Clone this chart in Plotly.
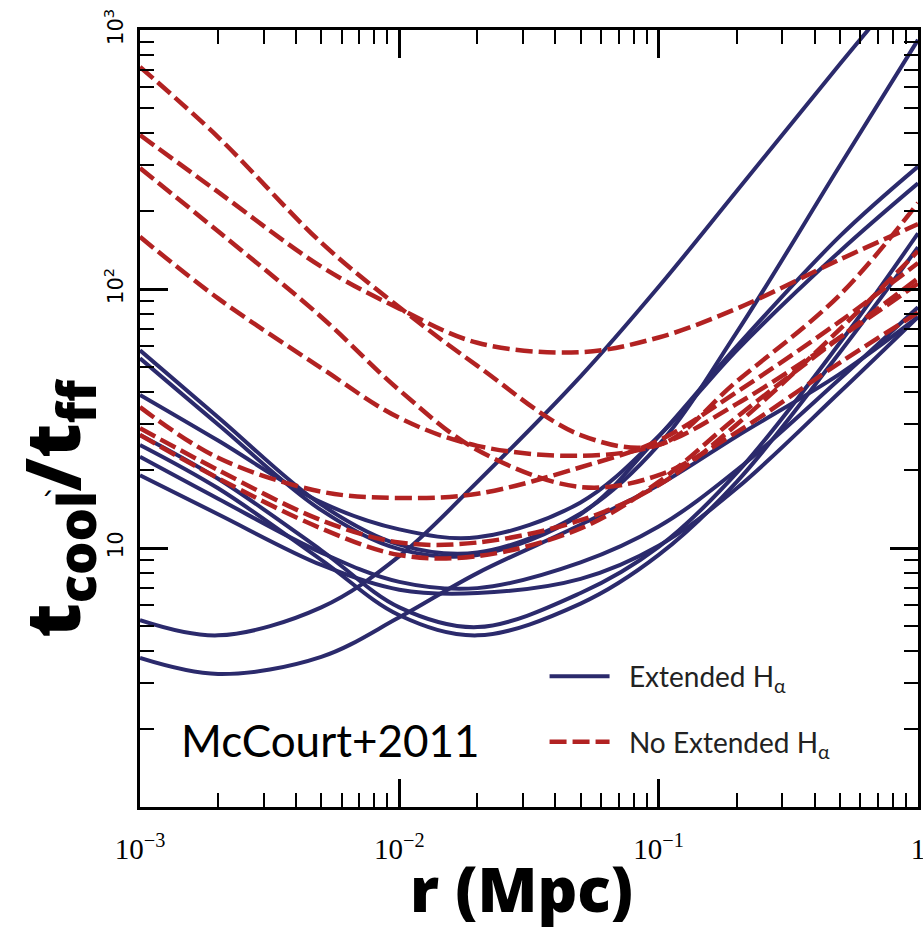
import plotly.graph_objects as go

# radius grid (Mpc)
r = [0.001, 0.002, 0.005, 0.01, 0.02, 0.05, 0.1, 0.2, 0.5, 1.0]

# No extended H-alpha (dashed red)
red_curves = [
    [720, 386, 151, 85, 50.5, 27.3, 25, 44, 95, 215],
    [393, 237, 122, 84, 62, 57, 65, 84, 130, 178],
    [293, 167, 78, 40.7, 23.9, 17.2, 19.1, 28, 52, 81],
    [159, 92, 49.5, 31.8, 24.8, 22.7, 25, 36, 65, 105],
    [35, 22.3, 16.5, 15.6, 16.2, 20.5, 26, 40, 75, 126],
    [29, 20, 12.8, 10.5, 10.5, 12.8, 17.5, 30, 70, 140],
    [27.3, 18.6, 11.9, 9.4, 9.3, 11.9, 18, 32, 65, 110],
]

# Extended H-alpha (solid blue)
blue_curves = [
    [5.27, 4.6, 5.9, 9.3, 18, 46, 102, 239, 739, 1700],
    [3.76, 3.26, 3.8, 5.4, 8.0, 12.3, 17.5, 27, 47, 78],
    [58, 32, 14.7, 10.3, 9.6, 13.6, 25, 68, 300, 916],
    [54, 30, 14, 9.9, 9.4, 13.5, 27, 60, 160, 297],
    [39, 26, 15, 11.8, 11, 15, 27, 58, 140, 256],
    [27.3, 18.5, 9.8, 5.9, 4.95, 6.7, 10.1, 19.5, 62, 164],
    [25, 17, 9.0, 5.5, 4.6, 6.1, 9.4, 18, 57, 145],
    [22.5, 15.5, 9.6, 7.4, 7.0, 8.8, 12.1, 20, 45, 85],
    [19.1, 13.5, 8.6, 6.9, 6.7, 7.6, 10.2, 17, 40, 78],
]

x_tickvals = [0.001, 0.01, 0.1, 1]
x_ticktext = ["10<sup>−3</sup>", "10<sup>−2</sup>", "10<sup>−1</sup>", "1"]
y_tickvals = [10, 100, 1000]
y_ticktext = ["10", "10<sup>2</sup>", "10<sup>3</sup>"]

BLUE = "#2b2a6c"
RED = "#b22222"
NB = "\u00a0"

fig = go.Figure()
for i, ys in enumerate(blue_curves):
    fig.add_trace(go.Scatter(
        x=r, y=ys, mode="lines", line=dict(color=BLUE, width=4, shape="spline"),
        name=NB * 2 + "Extended H<sub>α</sub>", legendgroup="ext", showlegend=(i == 0)))
for i, ys in enumerate(red_curves):
    fig.add_trace(go.Scatter(
        x=r, y=ys, mode="lines",
        line=dict(color=RED, width=4.5, dash="17px,6px", shape="spline"),
        name=NB * 2 + "No Extended H<sub>α</sub>", legendgroup="noext", showlegend=(i == 0)))

axis_common = dict(
    type="log", showline=True, linecolor="black", linewidth=3, mirror="ticks",
    ticks="inside", ticklen=28, tickwidth=2.5, tickcolor="black",
    showgrid=False, zeroline=False, automargin=False, ticklabeloverflow="allow",
    minor=dict(ticks="inside", ticklen=14, tickwidth=2, tickcolor="black", dtick="D1", showgrid=False),
)

fig.update_xaxes(
    range=[-3, 0], tickvals=x_tickvals, ticktext=x_ticktext,
    tickfont=dict(family="Liberation Serif", size=29, color="black"),
    ticklabelstandoff=14,
    **axis_common)
fig.update_yaxes(
    range=[0, 3], tickvals=y_tickvals, ticktext=y_ticktext, tickangle=-90,
    tickfont=dict(family="DejaVu Sans", size=21, color="black"),
    ticklabelstandoff=6,
    **axis_common)

# axis titles as annotations
fig.add_annotation(x=0.491, y=-0.104, xref="paper", yref="paper",
                   text="r (Mpc)", showarrow=False, xanchor="center", yanchor="middle",
                   font=dict(family="Open Sans", size=62, color="black", weight=800))
fig.add_annotation(x=-0.108, y=0.385, xref="paper", yref="paper",
                   text="t<sub>cool</sub>/t<sub>ff</sub>", textangle=-90,
                   showarrow=False, xanchor="center", yanchor="middle",
                   font=dict(family="Open Sans", size=75, color="black", weight=800))
fig.add_annotation(x=-0.133, y=0.389, xref="paper", yref="paper", text="ˊ",
                   showarrow=False, font=dict(family="DejaVu Sans", size=30, color="black"))

fig.add_annotation(x=0.05, y=0.086, xref="paper", yref="paper", text="McCourt+2011",
                   showarrow=False, xanchor="left", yanchor="middle",
                   font=dict(family="Lato", size=44, color="black"))

fig.update_layout(
    width=923, height=930,
    margin=dict(l=140, r=5, t=30, b=123),
    paper_bgcolor="white", plot_bgcolor="white",
    showlegend=True,
    legend=dict(x=0.52, y=0.20, xanchor="left", yanchor="top",
                bgcolor="rgba(0,0,0,0)", font=dict(family="Lato", size=28, color="#222222"),
                itemwidth=60, tracegroupgap=26),
)

fig.write_html("out.html")
